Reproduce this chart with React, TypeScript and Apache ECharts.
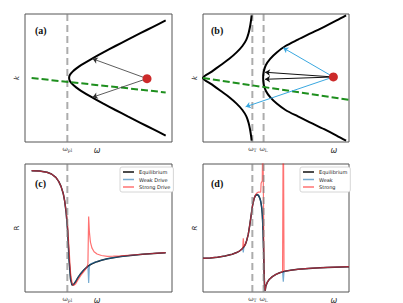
import React, { useEffect, useRef } from 'react';
import * as echarts from 'echarts';

// ---------- Panel (a): dispersion ----------
const kA = [-0.9, -0.8, -0.7, -0.6, -0.5, -0.4, -0.3, -0.2, -0.15, -0.1, -0.05, 0, 0.05, 0.1, 0.15, 0.2, 0.3, 0.4, 0.5, 0.6, 0.7, 0.8, 0.9];
const omegaA = [9.57, 8.71, 7.85, 6.99, 6.15, 5.33, 4.54, 3.81, 3.5, 3.24, 3.06, 3.0, 3.06, 3.24, 3.5, 3.81, 4.54, 5.33, 6.15, 6.99, 7.85, 8.71, 9.57];
const greenA = [[0.45, 0], [9.57, -0.225]];
const dotA = [8.3, -0.01];
const tipsA = [[4.6, 0.3], [4.6, -0.3]];
const wplA = 2.88;
const ticksA = [2.88, 4.9];
const tickLabA = ['{w|ω}{s|pl}', '{big|ω}'];

// ---------- Panel (b): polariton ----------
const kB = [-0.98, -0.9, -0.8, -0.7, -0.6, -0.5, -0.4, -0.3, -0.2, -0.1, 0, 0.1, 0.2, 0.3, 0.4, 0.5, 0.6, 0.7, 0.8, 0.9, 0.98];
const lowerB = [3.33, 3.29, 3.22, 3.12, 2.97, 2.7, 2.3, 1.8, 1.2, 0.6, 0, 0.6, 1.2, 1.8, 2.3, 2.7, 2.97, 3.12, 3.22, 3.29, 3.33];
const upperB = [9.8, 9.15, 8.3, 7.4, 6.5, 5.65, 5.05, 4.6, 4.3, 4.16, 4.12, 4.16, 4.3, 4.6, 5.05, 5.65, 6.5, 7.4, 8.3, 9.15, 9.8];
const greenB = [[0, 0], [10, -0.34]];
const dotB = [8.93, 0.016];
const blackTipsB = [[4.25, 0.09], [4.25, -0.02]];
const blueTipsB = [[5.5, 0.47], [2.92, -0.45]];
const wTB = 3.38;
const wLB = 4.15;
const ticksB = [3.38, 4.15, 8.97];
const tickLabB = ['{w|ω}{s|T}', '{w|ω}{s|L}', '{big|ω}'];

// ---------- Panel (c): reflectivity, plasma ----------
const omegaC = [0.45, 1.0, 1.5, 1.8, 2.1, 2.3, 2.45, 2.6, 2.7, 2.8, 2.9, 3.0, 3.1, 3.2, 3.3, 3.45, 3.6, 3.8, 4.0, 4.2, 4.28, 4.33, 4.38, 4.45, 4.55, 4.7, 4.9, 5.2, 5.6, 6.0, 6.5, 7.0, 7.5, 8.0, 8.5, 9.0, 9.57];
const eqC = [0.948, 0.945, 0.935, 0.922, 0.895, 0.862, 0.825, 0.77, 0.71, 0.62, 0.48, 0.25, 0.1, 0.055, 0.058, 0.082, 0.112, 0.145, 0.172, 0.193, 0.2, 0.205, 0.209, 0.214, 0.22, 0.228, 0.237, 0.248, 0.259, 0.268, 0.277, 0.284, 0.29, 0.295, 0.299, 0.303, 0.307];
const weakC = [0.948, 0.945, 0.935, 0.922, 0.895, 0.862, 0.825, 0.77, 0.71, 0.62, 0.48, 0.25, 0.1, 0.055, 0.058, 0.082, 0.112, 0.145, 0.172, 0.193, 0.205, 0.07, 0.2, 0.218, 0.224, 0.23, 0.238, 0.248, 0.259, 0.268, 0.277, 0.284, 0.29, 0.295, 0.299, 0.303, 0.307];
const strongC = [0.948, 0.945, 0.935, 0.922, 0.895, 0.862, 0.825, 0.77, 0.71, 0.63, 0.52, 0.33, 0.15, 0.07, 0.05, 0.065, 0.095, 0.13, 0.16, 0.19, 0.22, 0.59, 0.47, 0.39, 0.345, 0.315, 0.297, 0.285, 0.279, 0.28, 0.283, 0.287, 0.291, 0.295, 0.299, 0.303, 0.307];
const wplC = 2.88;
const ticksC = [2.88, 4.9];
const tickLabC = ['{w|ω}{s|pl}', '{big|ω}'];

// ---------- Panel (d): reflectivity, phonon ----------
const omegaD = [0, 0.5, 1.0, 1.5, 2.0, 2.3, 2.5, 2.65, 2.72, 2.76, 2.8, 2.9, 3.0, 3.1, 3.2, 3.3, 3.4, 3.5, 3.6, 3.7, 3.8, 3.9, 3.95, 3.98, 4.02, 4.06, 4.1, 4.14, 4.18, 4.22, 4.26, 4.3, 4.4, 4.55, 4.75, 5.0, 5.25, 5.45, 5.5, 5.55, 5.7, 6.0, 6.5, 7.0, 7.5, 8.0, 8.5, 9.0, 9.5, 10];
const eqD = [0.263, 0.266, 0.272, 0.281, 0.295, 0.308, 0.32, 0.334, 0.342, 0.347, 0.353, 0.372, 0.405, 0.45, 0.52, 0.6, 0.68, 0.73, 0.755, 0.762, 0.755, 0.73, 0.71, 0.69, 0.66, 0.61, 0.52, 0.38, 0.18, 0.03, 0.01, 0.045, 0.075, 0.1, 0.12, 0.138, 0.15, 0.157, 0.158, 0.16, 0.164, 0.17, 0.177, 0.182, 0.186, 0.189, 0.192, 0.194, 0.196, 0.198];
const weakD = [0.263, 0.266, 0.272, 0.281, 0.295, 0.308, 0.32, 0.334, 0.342, 0.31, 0.353, 0.372, 0.405, 0.45, 0.52, 0.6, 0.68, 0.73, 0.755, 0.762, 0.755, 0.73, 0.71, 0.69, 0.66, 0.61, 0.52, 0.38, 0.18, 0.03, 0.01, 0.045, 0.075, 0.1, 0.12, 0.138, 0.15, 0.157, 0.08, 0.16, 0.164, 0.17, 0.177, 0.182, 0.186, 0.189, 0.192, 0.194, 0.196, 0.198];
const strongD = [0.263, 0.266, 0.272, 0.281, 0.295, 0.308, 0.32, 0.334, 0.342, 0.42, 0.353, 0.372, 0.405, 0.45, 0.52, 0.6, 0.68, 0.73, 0.76, 0.775, 0.78, 0.78, 0.78, 0.85, 0.86, 0.87, 1.3, 1.3, 0.18, 0.03, 0.01, 0.045, 0.075, 0.1, 0.12, 0.138, 0.15, 0.157, 1.5, 0.165, 0.164, 0.17, 0.177, 0.182, 0.186, 0.189, 0.192, 0.194, 0.196, 0.198];
const wTD = 3.38;
const wLD = 4.15;
const ticksD = [3.38, 4.15, 8.97];
const tickLabD = ['{w|ω}{s|T}', '{w|ω}{s|L}', '{big|ω}'];

const legendC = ['Equilibrium', 'Weak Drive', 'Strong Drive'];
const legendD = ['Equilibrium', 'Weak', 'Strong'];

const BLACK = '#111111';
const BLUE = 'rgba(31,119,180,0.6)';
const RED = 'rgba(255,20,20,0.6)';
const GREY = 'rgba(128,128,128,0.65)';
const GREEN = '#1e8f1e';
const DOT = '#cc2a2a';

const zip = (xs: number[], ys: number[]) => xs.map((x, i) => [x, ys[i]]);

export default function App() {
  const ref = useRef<HTMLDivElement>(null);
  useEffect(() => {
    document.body.style.margin = '0';
    const chart = echarts.init(ref.current!, null, { renderer: 'svg' });

    const grids = [
      { left: 25, top: 14, width: 147, height: 128 },
      { left: 203, top: 14, width: 146, height: 128 },
      { left: 25, top: 164, width: 147, height: 128 },
      { left: 203, top: 164, width: 146, height: 128 },
    ].map((g) => ({ ...g, show: true, borderColor: '#555', borderWidth: 1, outerBoundsMode: 'none' }));

    const rich = {
      w: { fontSize: 6.5, color: '#444', fontFamily: 'DejaVu Serif' },
      s: { fontSize: 4.5, color: '#444', fontFamily: 'DejaVu Serif', padding: [4, 0, 0, 0] },
      big: { fontSize: 8, color: '#333', fontStyle: 'italic', fontFamily: 'DejaVu Sans', padding: [2, 0, 0, 0] },
    };
    const mkX = (i: number, ticks: number[], labs: string[]) => ({
      type: 'value', gridIndex: i, min: 0, max: 10,
      axisLine: { show: false }, axisTick: { show: false }, splitLine: { show: false },
      axisLabel: {
        show: true, customValues: ticks, margin: 2, rich,
        formatter: (v: number) => {
          const idx = ticks.findIndex((t) => Math.abs(t - v) < 1e-6);
          return idx >= 0 ? labs[idx] : '';
        },
      },
    });
    const mkY = (i: number, min: number, max: number, name: string) => ({
      type: 'value', gridIndex: i, min, max, name, nameLocation: 'middle', nameGap: 5, nameRotate: 90,
      nameTextStyle: { fontSize: 7, color: '#222', fontFamily: 'DejaVu Sans', fontStyle: i === 2 ? 'normal' : 'italic' },
      axisLine: { show: false }, axisTick: { show: false }, splitLine: { show: false }, axisLabel: { show: false },
    });

    const line = (i: number, data: number[][], color: string, width: number, extra: any = {}) => ({
      type: 'line', xAxisIndex: i, yAxisIndex: i, data, showSymbol: false, symbol: 'none',
      color, lineStyle: { color, width }, silent: true, ...extra,
    });
    const vline = (i: number, x: number, lo: number, hi: number, z = 5) =>
      line(i, [[x, lo], [x, hi]], GREY, 2, { lineStyle: { color: GREY, width: 2, type: [7, 4] }, z });
    const arrows = (i: number, from: number[], tips: number[][], color: string, width: number) => ({
      type: 'lines', coordinateSystem: 'cartesian2d', xAxisIndex: i, yAxisIndex: i,
      data: tips.map((t) => ({ coords: [from, t] })),
      symbol: ['none', 'arrow'], symbolSize: 5, lineStyle: { color, width, opacity: 1 }, z: 6, silent: true,
    });
    const dot = (i: number, p: number[]) => ({
      type: 'scatter', xAxisIndex: i, yAxisIndex: i, data: [p], symbolSize: 9, itemStyle: { color: DOT, opacity: 1 }, z: 8, silent: true,
    });

    const series: any[] = [
      // (a)
      vline(0, wplA, -1, 1, 2),
      line(0, zip(omegaA, kA), '#000', 2, { smooth: 0.3, z: 3 }),
      line(0, greenA, GREEN, 2, { lineStyle: { color: GREEN, width: 2, type: [7, 3] }, z: 4 }),
      arrows(0, dotA, tipsA, '#333', 0.8),
      dot(0, dotA),
      // (b)
      vline(1, wTB, -1, 1, 2),
      vline(1, wLB, -1, 1, 2),
      line(1, zip(lowerB, kB), '#000', 2, { smooth: 0.3, z: 3 }),
      line(1, zip(upperB, kB), '#000', 2, { smooth: 0.3, z: 3 }),
      line(1, greenB, GREEN, 2, { lineStyle: { color: GREEN, width: 2, type: [7, 3] }, z: 4 }),
      arrows(1, dotB, blackTipsB, '#111', 1),
      arrows(1, dotB, blueTipsB, '#3aa8e0', 1),
      dot(1, dotB),
      // (c)
      line(2, zip(omegaC, eqC), BLACK, 1.5, { name: 'Equilibrium', z: 2 }),
      line(2, zip(omegaC, weakC), BLUE, 1.2, { name: 'Weak Drive', z: 3 }),
      line(2, zip(omegaC, strongC), RED, 1.2, { name: 'Strong Drive', z: 4 }),
      vline(2, wplC, 0, 1, 5),
      // (d)
      line(3, zip(omegaD, eqD), BLACK, 1.5, { name: 'Equilibrium', z: 2 }),
      line(3, zip(omegaD, weakD), BLUE, 1.2, { name: 'Weak', z: 3 }),
      line(3, zip(omegaD, strongD), RED, 1.2, { name: 'Strong', z: 4 }),
      vline(3, wTD, 0, 1, 5),
      vline(3, wLD, 0, 1, 5),
    ];

    const legendBase = {
      orient: 'vertical', itemWidth: 11, itemHeight: 1.5, itemGap: 1.5, icon: 'rect',
      textStyle: { fontSize: 5, lineHeight: 6, color: '#222', fontFamily: 'DejaVu Sans' },
      backgroundColor: '#fff', borderColor: '#ccc', borderWidth: 0.8, borderRadius: 2, padding: [2, 3, 2, 3],
      selectedMode: false,
    };

    const label = (txt: string, x: number, y: number) => ({
      type: 'text', left: x, top: y, z: 20,
      style: { text: txt, fontSize: 10, fontWeight: 'bold', fontFamily: 'Liberation Serif', fill: '#111' },
    });

    chart.setOption({
      animation: false,
      grid: grids,
      xAxis: [mkX(0, ticksA, tickLabA), mkX(1, ticksB, tickLabB), mkX(2, ticksC, tickLabC), mkX(3, ticksD, tickLabD)],
      yAxis: [mkY(0, -1, 1, 'k'), mkY(1, -1, 1, 'k'), mkY(2, 0, 1, 'R'), mkY(3, 0, 1, 'R')],
      legend: [
        { ...legendBase, data: legendC, left: 120, top: 167 },
        { ...legendBase, data: legendD, left: 300, top: 167 },
      ],
      series,
      graphic: [label('(a)', 35, 25), label('(b)', 211, 25), label('(c)', 35, 178), label('(d)', 211, 178)],
    });
    return () => chart.dispose();
  }, []);
  return <div ref={ref} style={{ width: 403, height: 303 }} />;
}
